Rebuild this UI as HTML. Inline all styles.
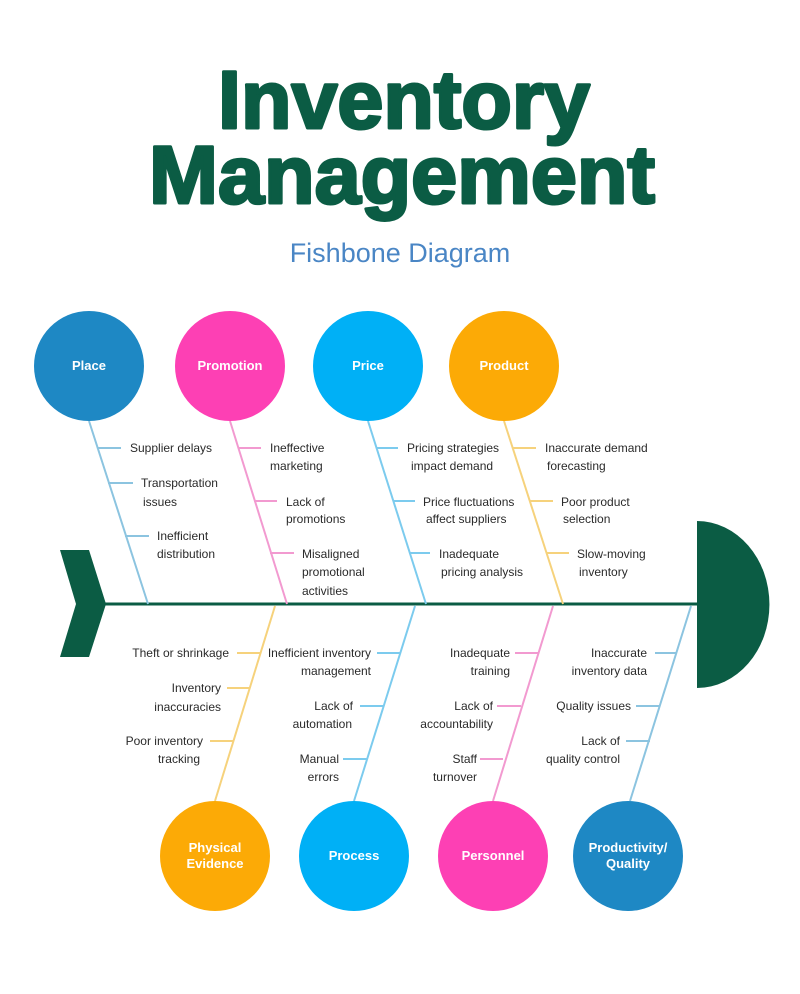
<!DOCTYPE html>
<html><head><meta charset="utf-8"><style>
html,body{margin:0;padding:0;background:#fff;}
svg{display:block;}
.t{font-family:"Liberation Sans",sans-serif;font-size:12px;fill:#2a2a2a;}
.c{font-family:"Liberation Sans",sans-serif;font-size:13px;font-weight:bold;fill:#fff;text-anchor:middle;}
</style></head><body>
<svg width="800" height="994" viewBox="0 0 800 994" xmlns="http://www.w3.org/2000/svg">
<rect width="800" height="994" fill="#fff"/>
<g font-family="Liberation Sans, sans-serif" font-weight="bold" fill="#0b5c44" stroke="#0b5c44" stroke-width="3" stroke-linejoin="round">
<text x="218" y="128" font-size="82" textLength="372" lengthAdjust="spacingAndGlyphs">Inventory</text>
<text x="149" y="203" font-size="82" textLength="506" lengthAdjust="spacingAndGlyphs">Management</text>
</g>
<text x="400" y="262" text-anchor="middle" font-family="Liberation Sans, sans-serif" font-size="27" fill="#4a86c5">Fishbone Diagram</text>

<line x1="100" y1="604" x2="700" y2="604" stroke="#0b5c44" stroke-width="3"/>
<polygon points="60,550 89,550 106,604 89,657 60,657 76,604" fill="#0b5c44"/>
<path d="M697,521 A72,83 0 0 1 697,688 Z" fill="#0b5c44"/>

<g stroke-width="2" fill="none">
<g stroke="#8cc4e0"><line x1="89" y1="421" x2="148" y2="604"/><line x1="97" y1="448" x2="121" y2="448"/><line x1="108" y1="483" x2="133" y2="483"/><line x1="125" y1="536" x2="149" y2="536"/></g>
<g stroke="#f29ad0"><line x1="230" y1="421" x2="287" y2="604"/><line x1="238" y1="448" x2="261" y2="448"/><line x1="254" y1="501" x2="277" y2="501"/><line x1="270" y1="553" x2="294" y2="553"/></g>
<g stroke="#7ccbee"><line x1="368" y1="421" x2="426" y2="604"/><line x1="376" y1="448" x2="398" y2="448"/><line x1="393" y1="501" x2="415" y2="501"/><line x1="409" y1="553" x2="430" y2="553"/></g>
<g stroke="#f6d27c"><line x1="504" y1="421" x2="563" y2="604"/><line x1="513" y1="448" x2="536" y2="448"/><line x1="530" y1="501" x2="553" y2="501"/><line x1="546" y1="553" x2="569" y2="553"/></g>
<g stroke="#f6d27c"><line x1="275" y1="606" x2="215" y2="801"/><line x1="237" y1="653" x2="260" y2="653"/><line x1="227" y1="688" x2="250" y2="688"/><line x1="210" y1="741" x2="233" y2="741"/></g>
<g stroke="#7ccbee"><line x1="415" y1="606" x2="354" y2="801"/><line x1="377" y1="653" x2="400" y2="653"/><line x1="360" y1="706" x2="384" y2="706"/><line x1="343" y1="759" x2="367" y2="759"/></g>
<g stroke="#f29ad0"><line x1="553" y1="606" x2="493" y2="801"/><line x1="515" y1="653" x2="538" y2="653"/><line x1="497" y1="706" x2="521" y2="706"/><line x1="480" y1="759" x2="503" y2="759"/></g>
<g stroke="#8cc4e0"><line x1="691" y1="606" x2="630" y2="801"/><line x1="655" y1="653" x2="677" y2="653"/><line x1="636" y1="706" x2="660" y2="706"/><line x1="626" y1="741" x2="650" y2="741"/></g>
</g>

<circle cx="89" cy="366" r="55" fill="#1e88c4"/>
<circle cx="230" cy="366" r="55" fill="#fd40b4"/>
<circle cx="368" cy="366" r="55" fill="#00b0f6"/>
<circle cx="504" cy="366" r="55" fill="#fcaa06"/>
<circle cx="215" cy="856" r="55" fill="#fcaa06"/>
<circle cx="354" cy="856" r="55" fill="#00b0f6"/>
<circle cx="493" cy="856" r="55" fill="#fd40b4"/>
<circle cx="628" cy="856" r="55" fill="#1e88c4"/>
<text class="c" x="89" y="370">Place</text>
<text class="c" x="230" y="370">Promotion</text>
<text class="c" x="368" y="370">Price</text>
<text class="c" x="504" y="370">Product</text>
<text class="c" x="215" y="852">Physical</text><text class="c" x="215" y="868">Evidence</text>
<text class="c" x="354" y="860">Process</text>
<text class="c" x="493" y="860">Personnel</text>
<text class="c" x="628" y="852">Productivity/</text><text class="c" x="628" y="868">Quality</text>

<text class="t" x="130" y="452">Supplier delays</text>
<text class="t" x="141" y="487">Transportation</text><text class="t" x="143" y="506">issues</text>
<text class="t" x="157" y="540">Inefficient</text><text class="t" x="157" y="558">distribution</text>
<text class="t" x="270" y="452">Ineffective</text><text class="t" x="270" y="470">marketing</text>
<text class="t" x="286" y="506">Lack of</text><text class="t" x="286" y="523">promotions</text>
<text class="t" x="302" y="558">Misaligned</text><text class="t" x="302" y="576">promotional</text><text class="t" x="302" y="595">activities</text>
<text class="t" x="407" y="452">Pricing strategies</text><text class="t" x="411" y="470">impact demand</text>
<text class="t" x="423" y="506">Price fluctuations</text><text class="t" x="426" y="523">affect suppliers</text>
<text class="t" x="439" y="558">Inadequate</text><text class="t" x="441" y="576">pricing analysis</text>
<text class="t" x="545" y="452">Inaccurate demand</text><text class="t" x="547" y="470">forecasting</text>
<text class="t" x="561" y="506">Poor product</text><text class="t" x="563" y="523">selection</text>
<text class="t" x="577" y="558">Slow-moving</text><text class="t" x="579" y="576">inventory</text>

<g text-anchor="end">
<text class="t" x="229" y="657">Theft or shrinkage</text>
<text class="t" x="221" y="692">Inventory</text><text class="t" x="221" y="711">inaccuracies</text>
<text class="t" x="203" y="745">Poor inventory</text><text class="t" x="200" y="763">tracking</text>
<text class="t" x="371" y="657">Inefficient inventory</text><text class="t" x="371" y="675">management</text>
<text class="t" x="353" y="710">Lack of</text><text class="t" x="352" y="728">automation</text>
<text class="t" x="339" y="763">Manual</text><text class="t" x="339" y="781">errors</text>
<text class="t" x="510" y="657">Inadequate</text><text class="t" x="510" y="675">training</text>
<text class="t" x="493" y="710">Lack of</text><text class="t" x="493" y="728">accountability</text>
<text class="t" x="477" y="763">Staff</text><text class="t" x="477" y="781">turnover</text>
<text class="t" x="647" y="657">Inaccurate</text><text class="t" x="647" y="675">inventory data</text>
<text class="t" x="631" y="710">Quality issues</text>
<text class="t" x="620" y="745">Lack of</text><text class="t" x="620" y="763">quality control</text>
</g>
</svg>
</body></html>
